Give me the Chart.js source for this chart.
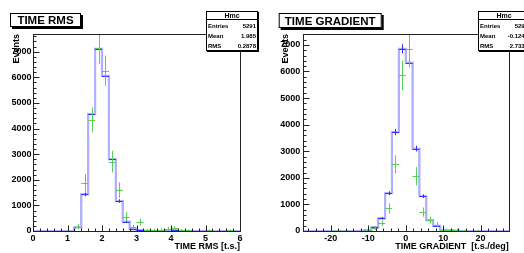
<!DOCTYPE html>
<html lang="en">
<head>
<meta charset="UTF-8">
<title>TIME RMS / TIME GRADIENT</title>
<script src="https://cdn.jsdelivr.net/npm/chart.js"></script>
<style>
  body { margin: 0; background: #fff; }
  .panel { position: absolute; top: 0; width: 262px; height: 253px; }
</style>
</head>
<body>
<div class="panel" style="left:0"><canvas id="rmsChart" width="262" height="253"></canvas></div>
<div class="panel" style="left:262px"><canvas id="gradChart" width="262" height="253"></canvas></div>
<script>
// ---- TIME RMS histogram: 30 bins from 0 to 6 ----
const rmsMin = 0, rmsMax = 6, rmsBins = 30;
const rmsMc = [0, 0, 0, 0, 0, 0, 145, 1430, 4560, 7110, 6055, 2800, 1170, 365, 65,
               35, 5, 0, 0, 10, 30, 0, 0, 0, 10, 0, 0, 0, 0, 0];
const rmsMcErr = [0, 0, 0, 0, 0, 0, 25, 75, 135, 170, 155, 105, 70, 38, 16,
                  12, 5, 0, 0, 6, 10, 0, 0, 0, 6, 0, 0, 0, 0, 0];
const rmsData = [0, 0, 0, 0, 0, 0, 170, 1860, 4340, 7140, 6260, 2710, 1600, 560, 150,
                 350, 40, 40, 50, 90, 110, 30, 20, 0, 0, 20, 0, 0, 20, 0];
const rmsDataErr = [0, 0, 0, 0, 0, 0, 100, 360, 490, 620, 590, 420, 300, 180, 90,
                    140, 50, 50, 55, 75, 80, 45, 40, 0, 0, 40, 0, 0, 40, 0];
const rmsXTicks = [0, 1, 2, 3, 4, 5, 6];
const rmsYTicks = [0, 1000, 2000, 3000, 4000, 5000, 6000, 7000];
const rmsStats = [['Entries', '5291'], ['Mean', '1.985'], ['RMS', '0.2878']];

// ---- TIME GRADIENT histogram: 30 bins from -27.5 to 27.5 ----
const gradMin = -27.5, gradMax = 27.5, gradBins = 30;
const gradMc = [0, 0, 0, 0, 0, 0, 0, 0, 10, 30, 137, 475, 1420, 3720, 6850,
                6330, 3100, 1310, 410, 190, 40, 20, 5, 0, 0, 0, 0, 0, 0, 0];
const gradMcErr = [0, 0, 0, 0, 0, 0, 0, 0, 6, 12, 25, 45, 75, 120, 175,
                   160, 110, 70, 40, 28, 12, 8, 5, 0, 0, 0, 0, 0, 0, 0];
const gradData = [0, 0, 0, 0, 10, 10, 0, 0, 10, 40, 100, 290, 850, 2510, 5850,
                  6850, 2060, 710, 410, 240, 40, 20, 40, 10, 0, 10, 0, 0, 0, 0];
const gradDataErr = [0, 0, 0, 0, 30, 30, 0, 0, 30, 40, 60, 100, 190, 340, 560,
                     660, 345, 175, 130, 100, 50, 40, 50, 30, 0, 30, 0, 0, 0, 0];
const gradXTicks = [-20, -10, 0, 10, 20];
const gradYTicks = [0, 1000, 2000, 3000, 4000, 5000, 6000, 7000];
const gradStats = [['Entries', '5291'], ['Mean', '-0.1243'], ['RMS', '2.7332']];

const FONT = "'Liberation Sans', Arial, sans-serif";
const BLUE = '#3030ff', BLUE_LIGHT = '#b0b0ff', GREEN = '#55cf55';

function binEdges(min, max, n) {
  const w = (max - min) / n;
  const e = [];
  for (let i = 0; i <= n; i++) e.push(min + i * w);
  return e;
}

function stepPoints(edges, vals) {
  const pts = vals.map((v, i) => ({ x: edges[i], y: v }));
  pts.push({ x: edges[edges.length - 1], y: vals[vals.length - 1] });
  return pts;
}

const histDecor = {
  id: 'histDecor',
  afterDatasetsDraw(chart, args, opts) {
    const { ctx, chartArea: a, scales: { x, y } } = chart;
    ctx.save();
    ctx.beginPath();
    ctx.rect(a.left, a.top, a.right - a.left, a.bottom - a.top);
    ctx.clip();
    ctx.lineWidth = 1;
    opts.crosses.forEach(c => {
      ctx.strokeStyle = c.color;
      c.values.forEach((v, i) => {
        if (!v) return;
        const xl = x.getPixelForValue(c.edges[i]);
        const xr = x.getPixelForValue(c.edges[i + 1]);
        const xc = Math.round((xl + xr) / 2) + 0.5;
        const yc = Math.round(y.getPixelForValue(v)) + 0.5;
        ctx.beginPath();
        ctx.moveTo(xl, yc); ctx.lineTo(xr, yc);
        ctx.moveTo(xc, y.getPixelForValue(v - c.errors[i]));
        ctx.lineTo(xc, y.getPixelForValue(v + c.errors[i]));
        ctx.stroke();
      });
    });
    ctx.restore();

    // frame and ROOT-style inward ticks
    ctx.save();
    ctx.strokeStyle = '#222';
    ctx.lineWidth = 1;
    const L = Math.round(a.left) + 0.5, R = Math.round(a.right) + 0.5;
    const T = Math.round(a.top) + 0.5, B = Math.round(a.bottom) + 0.5;
    ctx.strokeRect(L, T, R - L, B - T);
    ctx.beginPath();
    const tickLoop = (scale, minor, major, draw) => {
      const k0 = Math.ceil(scale.min / minor - 1e-9), k1 = Math.floor(scale.max / minor + 1e-9);
      for (let k = k0; k <= k1; k++) {
        const v = k * minor;
        const isMajor = Math.abs(v / major - Math.round(v / major)) < 1e-6;
        draw(Math.round(scale.getPixelForValue(v)) + 0.5, isMajor ? 6 : 3);
      }
    };
    tickLoop(x, opts.xMinor, opts.xMajor, (px, len) => { ctx.moveTo(px, B); ctx.lineTo(px, B - len); });
    tickLoop(y, opts.yMinor, opts.yMajor, (py, len) => { ctx.moveTo(L, py); ctx.lineTo(L + len, py); });
    ctx.stroke();
    ctx.restore();
  },
  afterDraw(chart, args, opts) {
    const ctx = chart.ctx;
    ctx.save();
    // title box with shadow
    const [tx, ty, tw, th] = opts.titleBox;
    ctx.fillStyle = '#000';
    ctx.fillRect(tx + 2, ty + 2, tw, th);
    ctx.fillStyle = '#fff';
    ctx.fillRect(tx, ty, tw, th);
    ctx.strokeStyle = '#000';
    ctx.lineWidth = 1;
    ctx.strokeRect(tx + 0.5, ty + 0.5, tw - 1, th - 1);
    ctx.fillStyle = '#000';
    ctx.font = 'bold 11.5px ' + FONT;
    ctx.textAlign = 'center';
    ctx.textBaseline = 'middle';
    ctx.fillText(opts.title, tx + tw / 2, ty + th / 2 + 1);

    // stats box
    const [sx, sy, sw, sh] = opts.statsBox;
    ctx.fillStyle = '#000';
    ctx.fillRect(sx + 1, sy + 1, sw, sh);
    ctx.fillStyle = '#fff';
    ctx.fillRect(sx, sy, sw, sh);
    ctx.strokeRect(sx + 0.5, sy + 0.5, sw - 1, sh - 1);
    ctx.beginPath();
    ctx.moveTo(sx, sy + 8.5); ctx.lineTo(sx + sw, sy + 8.5);
    ctx.stroke();
    ctx.fillStyle = '#000';
    ctx.font = 'bold 7px ' + FONT;
    ctx.fillText('Hmc', sx + sw / 2, sy + 5);
    ctx.font = 'bold 6px ' + FONT;
    opts.stats.forEach(([k, v], i) => {
      const yy = sy + 15 + i * 10;
      ctx.textAlign = 'left';
      ctx.fillText(k, sx + 2, yy);
      ctx.textAlign = 'right';
      ctx.fillText(v, sx + sw - 2, yy);
    });
    ctx.restore();
  }
};

function makeHist(id, cfg) {
  const edges = binEdges(cfg.min, cfg.max, cfg.bins);
  const steps = stepPoints(edges, cfg.mc);
  return new Chart(document.getElementById(id), {
    type: 'line',
    data: {
      datasets: [
        { data: steps, stepped: true, borderColor: BLUE_LIGHT, borderWidth: 2.2, pointRadius: 0, fill: false },
        { data: steps, stepped: true, borderColor: BLUE, borderWidth: 1.2, pointRadius: 0, fill: false }
      ]
    },
    options: {
      responsive: false,
      animation: false,
      devicePixelRatio: 1,
      layout: { padding: { top: 34, right: cfg.padRight, left: 0, bottom: 0 } },
      plugins: {
        legend: { display: false },
        tooltip: { enabled: false },
        histDecor: {
          crosses: [
            { edges, values: cfg.mc, errors: cfg.mcErr, color: BLUE },
            { edges, values: cfg.data, errors: cfg.dataErr, color: GREEN }
          ],
          xMinor: cfg.xMinor, xMajor: cfg.xMajor, yMinor: 200, yMajor: 1000,
          title: cfg.title, titleBox: cfg.titleBox,
          stats: cfg.stats, statsBox: cfg.statsBox
        }
      },
      scales: {
        x: {
          type: 'linear', position: 'bottom',
          min: cfg.min, max: cfg.max,
          afterFit: s => { s.height = 22; },
          afterBuildTicks: s => { s.ticks = cfg.xTicks.map(v => ({ value: v })); },
          grid: { display: false, drawTicks: false },
          border: { display: false },
          ticks: {
            padding: 2, maxRotation: 0, autoSkip: false, color: '#000',
            font: { family: FONT, size: 9, weight: 'bold' }
          },
          title: {
            display: true, text: cfg.xTitle, align: 'end', color: '#000',
            font: { family: FONT, size: 9, weight: 'bold' },
            padding: { top: 0, bottom: 0.6 }
          }
        },
        y: {
          type: 'linear', min: 0, max: cfg.yMax,
          afterFit: s => { s.width = cfg.yWidth; },
          afterBuildTicks: s => { s.ticks = cfg.yTicks.map(v => ({ value: v })); },
          grid: { display: false, drawTicks: false },
          border: { display: false },
          ticks: {
            padding: cfg.yTickPad, color: '#000', autoSkip: false,
            font: { family: FONT, size: 9, weight: 'bold' },
            callback: v => String(v)
          },
          title: {
            display: true, text: 'Events', align: 'end', color: '#000',
            font: { family: FONT, size: 9, weight: 'bold' },
            padding: { top: cfg.yTitlePad, bottom: 0 }
          }
        }
      }
    },
    plugins: [histDecor]
  });
}

makeHist('rmsChart', {
  min: rmsMin, max: rmsMax, bins: rmsBins,
  mc: rmsMc, mcErr: rmsMcErr, data: rmsData, dataErr: rmsDataErr,
  xTicks: rmsXTicks, yTicks: rmsYTicks,
  yMax: 7690, xMajor: 1, xMinor: 0.2,
  padRight: 22, yWidth: 33, yTickPad: 1.5, yTitlePad: 11.3,
  xTitle: 'TIME RMS [t.s.]',
  title: 'TIME RMS', titleBox: [10, 13, 71, 14],
  stats: rmsStats, statsBox: [206, 11, 52, 40]
});

makeHist('gradChart', {
  min: gradMin, max: gradMax, bins: gradBins,
  mc: gradMc, mcErr: gradMcErr, data: gradData, dataErr: gradDataErr,
  xTicks: gradXTicks, yTicks: gradYTicks,
  yMax: 7410, xMajor: 10, xMinor: 2,
  padRight: 15.3, yWidth: 40.7, yTickPad: 2.4, yTitlePad: 18.3,
  xTitle: 'TIME GRADIENT  [t.s./deg]',
  title: 'TIME GRADIENT', titleBox: [16.7, 13, 103, 15],
  stats: gradStats, statsBox: [216, 11, 52, 40]
});
</script>
</body>
</html>
